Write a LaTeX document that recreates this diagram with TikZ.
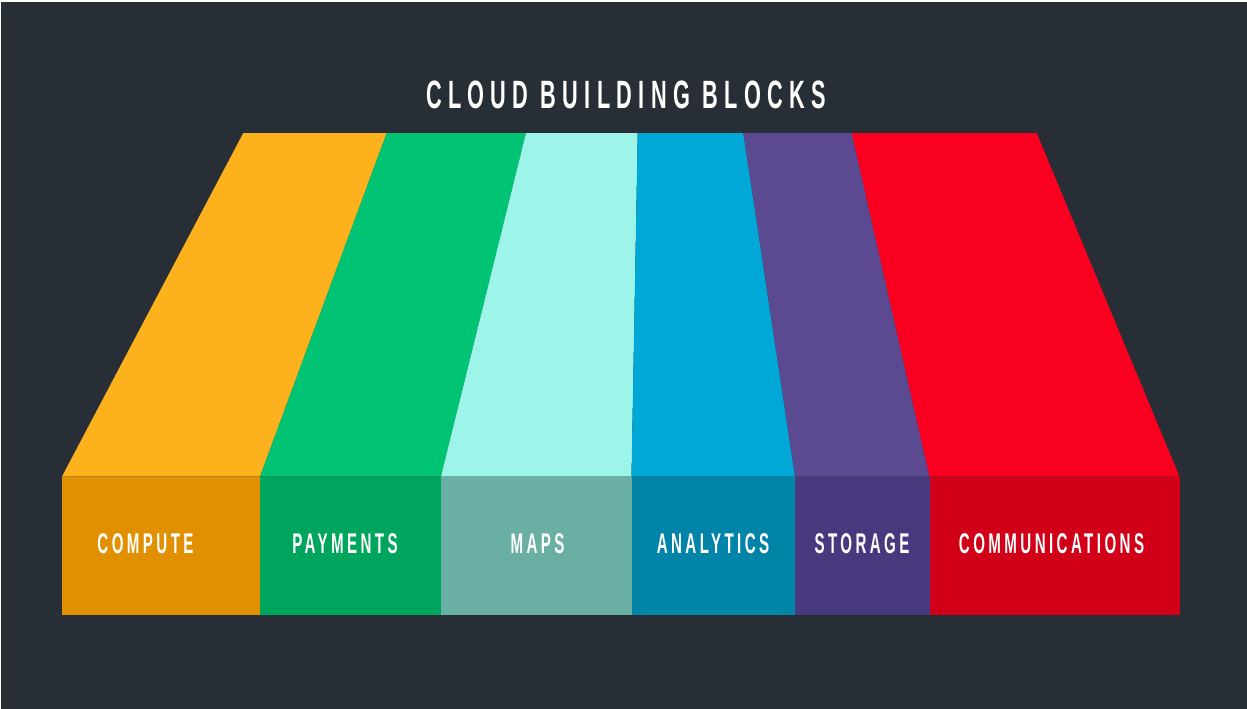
\documentclass[tikz,border=0pt]{standalone}
\usepackage{tikz}
\usepackage{xcolor}
\usepackage{fontspec}
\newfontfamily\blockfont{Liberation Sans}[FakeStretch=0.53,LetterSpace=12]
\newfontfamily\titlefont{Liberation Sans}[FakeStretch=0.55,LetterSpace=16]
\definecolor{bgdark}{HTML}{282E36}
\definecolor{computetop}{HTML}{FDB21D}
\definecolor{computefront}{HTML}{E09000}
\definecolor{paytop}{HTML}{00C473}
\definecolor{payfront}{HTML}{00A55D}
\definecolor{mapstop}{HTML}{9CF5E8}
\definecolor{mapsfront}{HTML}{6AAFA4}
\definecolor{analyticstop}{HTML}{00A8D8}
\definecolor{analyticsfront}{HTML}{0284A8}
\definecolor{storagetop}{HTML}{5B4A91}
\definecolor{storagefront}{HTML}{48387E}
\definecolor{commtop}{HTML}{F90021}
\definecolor{commfront}{HTML}{D10018}
\begin{document}
\begin{tikzpicture}[x=1pt,y=-1pt]
\tikzset{blocklabel/.style={text=white,inner sep=0,font=\blockfont\bfseries\fontsize{28.5}{30}\selectfont}}
\fill[white] (0,0) rectangle (1247,709);
\fill[bgdark] (1,2) rectangle (1247,709);
\node[text=white,inner sep=0,font=\titlefont\bfseries\fontsize{39.5}{42}\selectfont] (title) at (626,95) {CLOUD BUILDING BLOCKS};
\fill[computetop] (243.3,133) -- (386.7,133) -- (260,476.5) -- (62,476.5) -- cycle;
\fill[computefront] (62,476.5) rectangle (260,615);
\node[blocklabel] (compute) at (145.5,543.5) {COMPUTE};
\fill[paytop] (386.7,133) -- (526,133) -- (441,476.5) -- (260,476.5) -- cycle;
\fill[payfront] (260,476.5) rectangle (441,615);
\node[blocklabel] (payments) at (345,543.5) {PAYMENTS};
\fill[mapstop] (526,133) -- (637.7,133) -- (631.5,476.5) -- (441,476.5) -- cycle;
\fill[mapsfront] (441,476.5) rectangle (631.5,615);
\node[blocklabel] (maps) at (537.5,543.5) {MAPS};
\fill[analyticstop] (637.7,133) -- (743.3,133) -- (795,476.5) -- (631.5,476.5) -- cycle;
\fill[analyticsfront] (631.5,476.5) rectangle (795,615);
\node[blocklabel] (analytics) at (713,543.5) {ANALYTICS};
\fill[storagetop] (743.3,133) -- (851.7,133) -- (929.5,476.5) -- (795,476.5) -- cycle;
\fill[storagefront] (795,476.5) rectangle (929.5,615);
\node[blocklabel] (storage) at (862,543.5) {STORAGE};
\fill[commtop] (851.7,133) -- (1036.7,133) -- (1179.5,476.5) -- (929.5,476.5) -- cycle;
\fill[commfront] (929.5,476.5) rectangle (1179.5,615);
\node[blocklabel] (communications) at (1051.5,543.5) {COMMUNICATIONS};
\end{tikzpicture}
\end{document}
